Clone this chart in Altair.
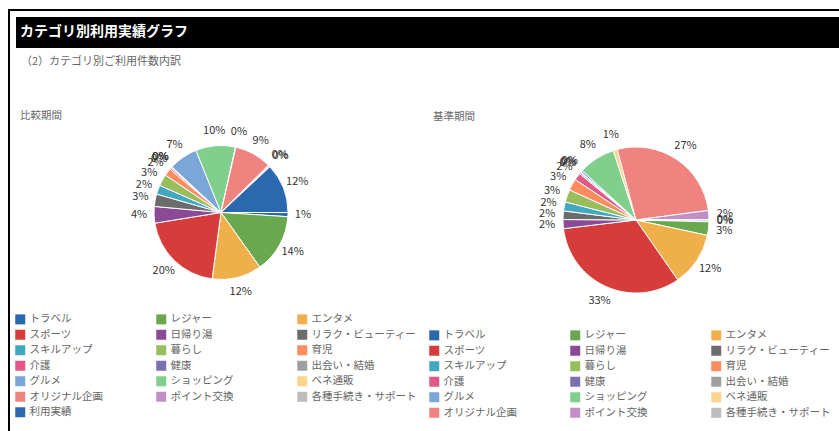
import math
import altair as alt
import pandas as pd

categories = ["トラベル", "レジャー", "エンタメ", "スポーツ", "日帰り湯", "リラク・ビューティー",
              "スキルアップ", "暮らし", "育児", "介護", "健康", "出会い・結婚",
              "グルメ", "ショッピング", "ベネ通販", "オリジナル企画", "ポイント交換",
              "各種手続き・サポート", "利用実績"]
colors = ["#2a69ad", "#6aa84f", "#efb04c", "#d63c3a", "#8a4a94", "#6c6c6c",
          "#42a8c2", "#98bd5c", "#fd8c5f", "#e05a85", "#7b6fae", "#a0a0a0",
          "#7aa6d8", "#80cf8d", "#fdd48b", "#f0837f", "#c18ec8", "#bdbdbd", "#2a69ad"]
# 比較期間 (percent shares)
compare_values = [1.0, 14.2, 12.0, 20.4, 4.0, 3.0, 2.2, 2.8, 1.8, 0.4, 0.2, 0.1,
                  7.0, 9.6, 0.1, 9.0, 0.3, 0.2, 12.0]
# 基準期間
base_values = [0.4, 3.0, 12.0, 33.0, 2.0, 1.9, 2.0, 2.8, 2.6, 1.6, 0.3, 0.2,
               0.4, 8.2, 0.9, 27.2, 2.0, 0.1]

title_text = "カテゴリ別利用実績グラフ"
subtitle_text = "（2）カテゴリ別ご利用件数内訳"
left_label = "比較期間"
right_label = "基準期間"

FONT = "Noto Sans CJK JP"

left_df = pd.DataFrame({"cat": categories, "v": compare_values,
                        "idx": list(range(len(compare_values)))})
right_df = pd.DataFrame({"cat": categories[:len(base_values)], "v": base_values,
                         "idx": list(range(len(base_values)))})

theta_range = [math.pi / 2, math.pi / 2 + 2 * math.pi]


def pie(df, cx, cy, r, lr, lx, ly):
    doms = list(df["cat"])
    rng = colors[:len(doms)]
    base = alt.Chart(df).transform_joinaggregate(total="sum(v)").transform_calculate(
        pct="datum.v / datum.total")
    arcs = base.mark_arc(radius=r, stroke="white", strokeWidth=1).encode(
        theta=alt.Theta("v:Q", stack=True, scale=alt.Scale(range=theta_range)),
        order=alt.Order("idx:Q", sort="ascending"),
        color=alt.Color("cat:N", scale=alt.Scale(domain=doms, range=rng),
                        legend=alt.Legend(orient="none", legendX=lx, legendY=ly,
                                          direction="horizontal",
                                          columns=3, title=None, symbolType="square",
                                          symbolSize=100, symbolStrokeWidth=0,
                                          labelFontSize=10.5, labelColor="#666",
                                          labelFont=FONT, columnPadding=21,
                                          rowPadding=4.5, gridAlign="all",
                                          labelOffset=4, padding=0, offset=0)),
        x=alt.value(cx), y=alt.value(cy),
    )
    labels = base.mark_text(radius=lr, fontSize=11, color="#333", font=FONT).encode(
        theta=alt.Theta("v:Q", stack=True, scale=alt.Scale(range=theta_range)),
        order=alt.Order("idx:Q", sort="ascending"),
        text=alt.Text("pct:Q", format=".0%"),
        x=alt.value(cx), y=alt.value(cy),
    )
    return arcs, labels


la, ll = pie(left_df, 221, 212.5, 67, 82, 15, 314)
ra, rl = pie(right_df, 636, 220, 73, 89, 429, 330)

one = alt.Data(values=[{}])
border = alt.Chart(one).mark_rect(filled=False, stroke="black", strokeWidth=2).encode(
    x=alt.value(9), x2=alt.value(900), y=alt.value(10), y2=alt.value(500))
bar = alt.Chart(one).mark_rect(color="black").encode(
    x=alt.value(16), x2=alt.value(900), y=alt.value(17), y2=alt.value(48))
ttl = alt.Chart(one).mark_text(text=title_text, color="white", fontSize=14,
                               fontWeight="bold", font=FONT, align="left",
                               baseline="middle").encode(x=alt.value(20), y=alt.value(32))
sub = alt.Chart(one).mark_text(text=subtitle_text, color="#666", fontSize=11,
                               font=FONT, align="left",
                               baseline="middle").encode(x=alt.value(21), y=alt.value(62))
lt = alt.Chart(one).mark_text(text=left_label, color="#666", fontSize=10.5,
                              font=FONT, align="left",
                              baseline="middle").encode(x=alt.value(20), y=alt.value(116))
rt = alt.Chart(one).mark_text(text=right_label, color="#666", fontSize=10.5,
                              font=FONT, align="left",
                              baseline="middle").encode(x=alt.value(433), y=alt.value(117))

chart = alt.layer(border, bar, ttl, sub, lt, rt, la, ll, ra, rl).resolve_scale(
    theta="independent", color="independent"
).properties(width=839, height=431, autosize=alt.AutoSizeParams(type="none"),
             padding=0, background="white").configure_view(stroke=None)

chart.save("out.html", embed_options={"renderer": "svg", "actions": False})
